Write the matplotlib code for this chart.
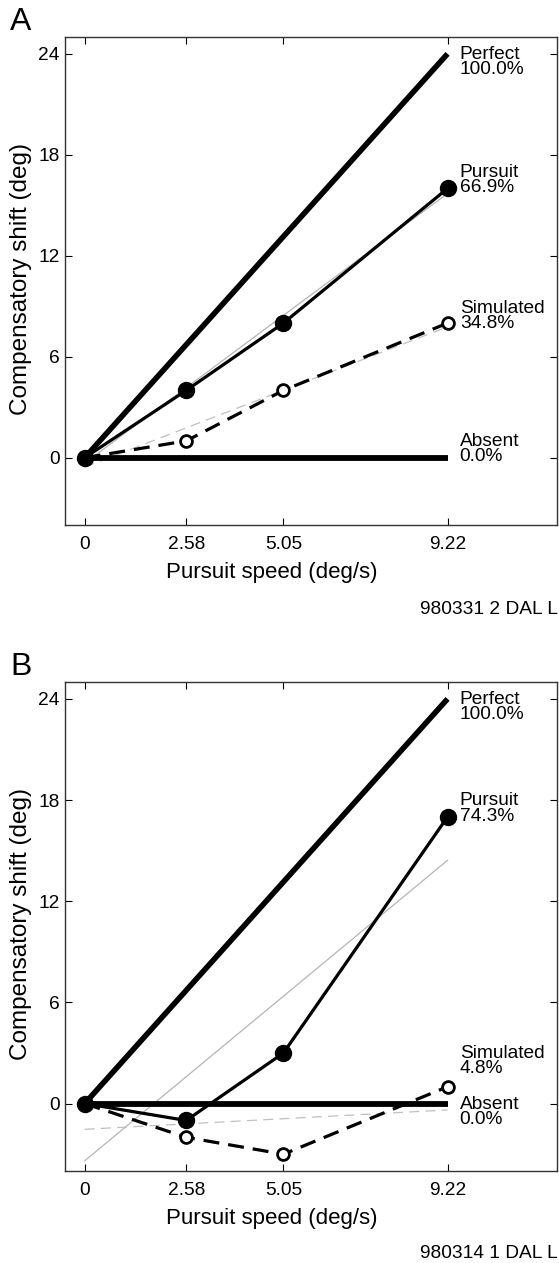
import numpy as np
import matplotlib.pyplot as plt

plt.rcParams['font.family'] = ['Liberation Sans', 'DejaVu Sans']

speeds = [0, 2.58, 5.05, 9.22]
perfect_x = [0, 9.22]
perfect_y = [0, 24]
absent_y = [0, 0]

pursuit_a = [0, 4, 8, 16]
simulated_a = [0, 1, 4, 8]
pursuit_b = [0, -1, 3, 17]
simulated_b = [0, -2, -3, 1]

labels_a = ['Perfect\n100.0%', 'Pursuit\n66.9%', 'Simulated\n34.8%', 'Absent\n0.0%']
labels_b = ['Perfect\n100.0%', 'Pursuit\n74.3%', 'Simulated\n4.8%', 'Absent\n0.0%']
yticks = [0, 6, 12, 18, 24]

fig = plt.figure(figsize=(5.59, 12.63), dpi=100)


def panel(ax, pursuit, simulated, labels, label_y, letter, code):
    x = np.array(speeds)
    # regression fits (grey)
    p = np.polyfit(x, pursuit, 1)
    s = np.polyfit(x, simulated, 1)
    ax.plot(perfect_x, np.polyval(p, perfect_x), color='#b5b5b5', lw=0.9, zorder=1)
    ax.plot(perfect_x, np.polyval(s, perfect_x), color='#c0c0c0', lw=0.9,
            dashes=(8, 5), zorder=1)

    ax.plot(perfect_x, absent_y, color='black', lw=4.2, solid_capstyle='butt', zorder=2)
    ax.plot(perfect_x, perfect_y, color='black', lw=4.0, solid_capstyle='butt', zorder=2)
    ax.plot(speeds, simulated, color='black', lw=2.3, dashes=(5, 2.8),
            marker='o', markersize=8.5, markerfacecolor='white',
            markeredgecolor='black', markeredgewidth=2.0, zorder=3)
    ax.plot(speeds, pursuit, color='black', lw=2.3, marker='o', markersize=11.5,
            markerfacecolor='black', markeredgecolor='black', zorder=4)

    for lab, yy in zip(labels, label_y):
        ax.text(9.53, yy, lab, fontsize=13.8, va='center', ha='left',
                linespacing=0.85)

    ax.set_xlim(-0.5, 12.0)
    ax.set_ylim(-4, 25)
    ax.set_xticks(speeds)
    ax.set_xticklabels(['0', '2.58', '5.05', '9.22'])
    ax.set_yticks(yticks)
    ax.tick_params(direction='in', top=True, right=True, length=5, width=0.8,
                   labelsize=13.8)
    ax.tick_params(axis='y', pad=4)
    ax.tick_params(axis='x', pad=8)
    for sp in ax.spines.values():
        sp.set_linewidth(1.0)
        sp.set_color('#333333')
    ax.set_xlabel('Pursuit speed (deg/s)', fontsize=16)
    ax.xaxis.set_label_coords(0.42, -0.075)
    ax.set_ylabel('Compensatory shift (deg)', fontsize=17.5)
    ax.yaxis.set_label_coords(-0.068, 0.505)

    pos = ax.get_position()
    fig.text(0.018, pos.y1 + 0.012, letter, fontsize=23, ha='left', va='center')
    fig.text(0.998, code_y[letter], code, fontsize=13.8, ha='right', va='center')


code_y = {'A': 1 - 610 / 1263, 'B': 1 - 1254 / 1263}

ax1 = fig.add_axes([0.1163, 0.5843, 0.880, 0.3864])
panel(ax1, pursuit_a, simulated_a, labels_a, [23.5, 16.5, 8.4, 0.5], 'A', '980331 2 DAL L')

ax2 = fig.add_axes([0.1163, 0.0728, 0.880, 0.3872])
panel(ax2, pursuit_b, simulated_b, labels_b, [23.5, 17.5, 2.5, -0.5], 'B', '980314 1 DAL L')

fig.savefig('out.png', dpi=100)
